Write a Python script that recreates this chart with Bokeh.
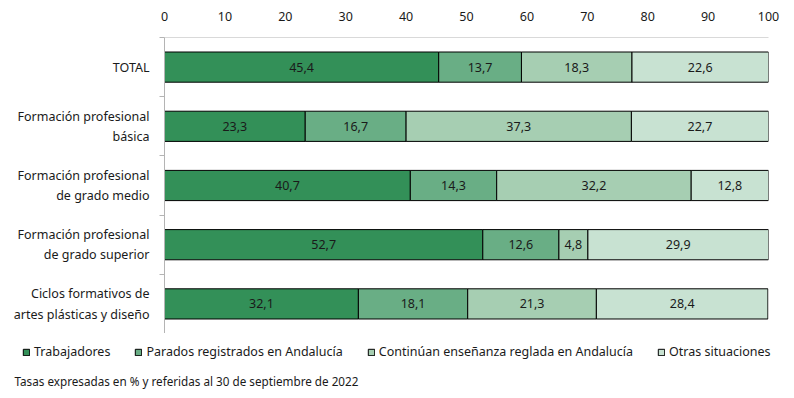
from bokeh.plotting import figure
from bokeh.layouts import column
from bokeh.models import (ColumnDataSource, FactorRange, Legend, LegendItem, Label,
                          FixedTicker, LinearAxis, CategoricalAxis)
from bokeh.core.properties import value
from bokeh.embed import file_html
from bokeh.resources import INLINE

categories = ["TOTAL", "Formación profesional\nbásica", "Formación profesional\nde grado medio",
              "Formación profesional\nde grado superior", "Ciclos formativos de\nartes plásticas y diseño"]
series = ["Trabajadores", "Parados registrados en Andalucía",
          "Continúan enseñanza reglada en Andalucía", "Otras situaciones"]
trabajadores = [45.4, 23.3, 40.7, 52.7, 32.1]
parados = [13.7, 16.7, 14.3, 12.6, 18.1]
continuan = [18.3, 37.3, 32.2, 4.8, 21.3]
otras = [22.6, 22.7, 12.8, 29.9, 28.4]
x_ticks = [0, 10, 20, 30, 40, 50, 60, 70, 80, 90, 100]
note = "Tasas expresadas  en % y referidas al 30 de septiembre  de 2022"

colors = ["#339058", "#69AE85", "#A6CEB2", "#C8E2D2"]
FONT = "Noto Sans"
TXT = "#1a1a1a"

vals = [trabajadores, parados, continuan, otras]

p = figure(width=794, height=333, output_backend="svg", toolbar_location=None,
           y_range=FactorRange(*reversed(categories)), x_range=(0, 100),
           x_axis_location="above", y_axis_location=None,
           min_border_left=164, min_border_right=26, min_border_top=37, min_border_bottom=0)
p.outline_line_color = None
p.xgrid.visible = False
p.ygrid.visible = False

# legend + note panel (separate figure whose frame spans the whole width)
p2 = figure(width=794, height=65, output_backend="svg", toolbar_location=None,
            x_range=(0, 1), y_range=(0, 1), x_axis_location=None, y_axis_location=None,
            min_border_left=0, min_border_right=0, min_border_top=0, min_border_bottom=0)
p2.frame_align = False
p.frame_align = False
p2.outline_line_color = None
p2.xgrid.visible = False
p2.ygrid.visible = False

items = []
lefts = [0.0] * len(categories)
for s, v, c in zip(series, vals, colors):
    rights = [l + x for l, x in zip(lefts, v)]
    src = ColumnDataSource(dict(y=categories, left=lefts, right=rights,
                                mid=[(l + r) / 2 for l, r in zip(lefts, rights)],
                                lab=[f"{x:.1f}".replace(".", ",") for x in v]))
    p.hbar(y="y", left="left", right="right", height=0.51, source=src,
           fill_color=c, line_color="black", line_width=1)
    p.text(x="mid", y="y", text="lab", source=src, text_align="center", text_baseline="middle",
           text_font=value(FONT), text_font_size="12.5px", text_color=TXT)
    # legend proxy in the lower panel (its categorical y values fall outside the numeric panel)
    r2 = p2.hbar(y="y", left="left", right="right", height=0.51, source=src,
                 fill_color=c, line_color="black", line_width=1)
    items.append(LegendItem(label=s, renderers=[r2], index=0))
    lefts = rights

p.xaxis.ticker = FixedTicker(ticks=x_ticks)
p.xaxis.major_tick_line_color = None
p.xaxis.minor_tick_line_color = None
p.xaxis.axis_line_color = "#d9d9d9"
p.xaxis.major_label_text_font = FONT
p.xaxis.major_label_text_font_size = "12.5px"
p.xaxis.major_label_text_color = TXT
p.xaxis.major_label_standoff = 11

# boundary ticks between categories (synthetic coordinates of the factor range)
bnd_axis = LinearAxis(ticker=FixedTicker(ticks=list(range(len(categories) + 1))),
                      axis_line_color="#b4b4b4", major_tick_line_color="#b4b4b4",
                      major_tick_out=5, major_tick_in=0, minor_tick_line_color=None,
                      major_label_text_font_size="0px", major_label_standoff=0)
p.add_layout(bnd_axis, "left")

cat_axis = CategoricalAxis(axis_line_color=None, major_tick_line_color=None,
                           major_label_text_font=FONT, major_label_text_font_size="12.5px",
                           major_label_text_color=TXT, major_label_standoff=4)
p.add_layout(cat_axis, "left")

legend = Legend(items=items, orientation="horizontal", location=(22, 38), spacing=24,
                label_text_font=FONT, label_text_font_size="12.5px", label_text_color=TXT,
                glyph_width=8, glyph_height=8, label_standoff=4, padding=0, margin=0,
                border_line_color=None, background_fill_alpha=0)
p2.add_layout(legend, "center")
p2.add_layout(Label(x=14, y=18, x_units="screen", y_units="screen", text=note,
                    text_baseline="middle", text_font=FONT, text_font_size="11.7px",
                    text_color=TXT))

open("out.html", "w").write(file_html(column(p, p2, spacing=0), INLINE))
